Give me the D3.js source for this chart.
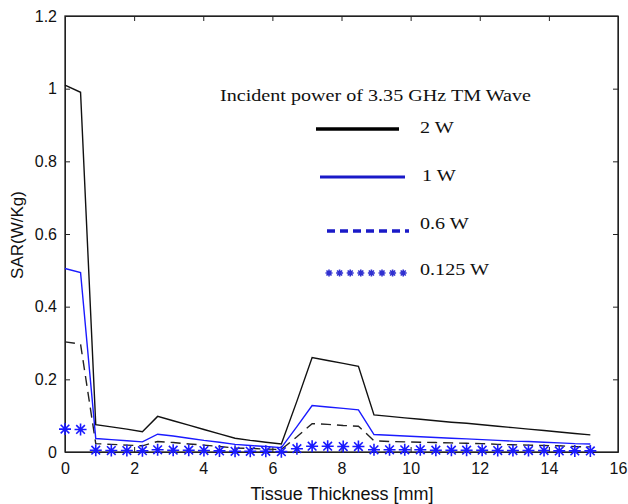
<!DOCTYPE html>
<html>
<head>
<meta charset="utf-8">
<script src="https://cdn.jsdelivr.net/npm/d3@7"></script>
<style>
  body { margin: 0; background: #fff; }
  svg { display: block; }
</style>
</head>
<body>
<svg id="chart"></svg>
<script>
const w = 628;
const h = 504;

// tissue thickness sample points [mm]
const thickness = [0, 0.45, 0.89, 1.34, 1.79, 2.24, 2.68, 3.13, 3.58, 4.02, 4.47, 4.92, 5.36, 5.81, 6.26,
                   6.71, 7.15, 7.6, 8.05, 8.49, 8.94, 9.39, 9.83, 10.28, 10.73, 11.18, 11.62, 12.07, 12.52,
                   12.96, 13.41, 13.86, 14.3, 14.75, 15.2];

// SAR values (W/Kg)
const sar2W = [1.01, 0.99, 0.075, 0.069, 0.063, 0.056, 0.098, 0.086, 0.074, 0.062, 0.050, 0.038, 0.032, 0.027, 0.022,
               0.14, 0.26, 0.252, 0.244, 0.236, 0.102, 0.098, 0.094, 0.090, 0.086, 0.082, 0.079, 0.075, 0.071,
               0.067, 0.063, 0.059, 0.055, 0.051, 0.047];
const sar1W = [0.505, 0.494, 0.037, 0.034, 0.031, 0.028, 0.049, 0.044, 0.038, 0.032, 0.027, 0.021, 0.018, 0.015, 0.012,
               0.07, 0.128, 0.124, 0.12, 0.116, 0.048, 0.046, 0.044, 0.042, 0.040, 0.038, 0.036, 0.034, 0.032,
               0.030, 0.029, 0.027, 0.025, 0.023, 0.022];
const sar06W = [0.303, 0.297, 0.023, 0.021, 0.019, 0.017, 0.029, 0.026, 0.022, 0.019, 0.015, 0.011, 0.010, 0.008, 0.007,
                0.042, 0.078, 0.076, 0.073, 0.071, 0.031, 0.029, 0.028, 0.027, 0.026, 0.025, 0.024, 0.023, 0.021,
                0.020, 0.019, 0.018, 0.017, 0.015, 0.014];
const sar0125W = [0.063, 0.062, 0.005, 0.004, 0.004, 0.0035, 0.006, 0.005, 0.005, 0.004, 0.003, 0.002, 0.002, 0.002, 0.001,
                  0.009, 0.016, 0.016, 0.015, 0.015, 0.006, 0.006, 0.006, 0.006, 0.005, 0.005, 0.005, 0.005, 0.004,
                  0.004, 0.004, 0.004, 0.003, 0.003, 0.003];

const xTicks = [0, 2, 4, 6, 8, 10, 12, 14, 16];
const yTicks = [0, 0.2, 0.4, 0.6, 0.8, 1, 1.2];

const legendTitle = "Incident power of 3.35 GHz TM Wave";
const legendLabels = ["2 W", "1 W", "0.6 W", "0.125 W"];

const padLeft = 65, padRight = 618, padTop = 16, padBottom = 452;

let svg = d3.select("#chart")
    .attr("width", w)
    .attr("height", h);

let xScale = d3.scaleLinear().domain([0, 16]).range([padLeft, padRight]);
let yScale = d3.scaleLinear().domain([0, 1.2]).range([padBottom, padTop]);

const fmt = v => String(+v.toFixed(1));

// axes (ticks pointing inside, matlab style)
let xAxis = d3.axisBottom(xScale).tickValues(xTicks).tickFormat(fmt).tickSizeInner(-5).tickSizeOuter(0).tickPadding(11);
let yAxis = d3.axisLeft(yScale).tickValues(yTicks).tickFormat(fmt).tickSizeInner(-5).tickSizeOuter(0).tickPadding(8);
let xTop = d3.axisTop(xScale).tickValues(xTicks).tickFormat("").tickSizeInner(-5).tickSizeOuter(0);
let yRight = d3.axisRight(yScale).tickValues(yTicks).tickFormat("").tickSizeInner(-5).tickSizeOuter(0);

svg.append("g").attr("transform", `translate(0,${padBottom})`).call(xAxis);
svg.append("g").attr("transform", `translate(${padLeft},0)`).call(yAxis);
svg.append("g").attr("transform", `translate(0,${padTop})`).call(xTop);
svg.append("g").attr("transform", `translate(${padRight},0)`).call(yRight);

svg.selectAll(".tick text")
   .style("font-family", "Arial, 'Liberation Sans', sans-serif")
   .style("font-size", "16px")
   .attr("fill", "#111");
svg.selectAll(".tick line").attr("stroke", "#222");
svg.selectAll(".domain").attr("stroke", "#222");

svg.append("rect")
   .attr("x", padLeft).attr("y", padTop)
   .attr("width", padRight - padLeft).attr("height", padBottom - padTop)
   .attr("fill", "none").attr("stroke", "#222").attr("stroke-width", 1.3);

// series
let line = d3.line()
    .x((d, i) => xScale(thickness[i]))
    .y(d => yScale(d));

svg.append("path").datum(sar06W)
   .attr("d", line).attr("fill", "none")
   .attr("stroke", "#222").attr("stroke-width", 1.4).attr("stroke-dasharray", "10,6");

svg.append("path").datum(sar1W)
   .attr("d", line).attr("fill", "none")
   .attr("stroke", "#1a1aff").attr("stroke-width", 1.4);

svg.append("path").datum(sar2W)
   .attr("d", line).attr("fill", "none")
   .attr("stroke", "#111").attr("stroke-width", 1.4);

// asterisk marker
const star = r => {
    let d2 = r * 0.72;
    return `M0,${-r}V${r}M${-r},0H${r}M${-d2},${-d2}L${d2},${d2}M${-d2},${d2}L${d2},${-d2}`;
};

svg.selectAll(".star")
   .data(sar0125W)
   .enter()
   .append("path")
   .attr("class", "star")
   .attr("transform", (d, i) => `translate(${xScale(thickness[i])},${yScale(d)})`)
   .attr("d", star(6))
   .attr("stroke", "#1a1aff")
   .attr("stroke-width", 1.6)
   .attr("fill", "none");

// axis titles
svg.append("text")
   .attr("x", 342).attr("y", 500)
   .attr("text-anchor", "middle")
   .style("font-family", "Arial, 'Liberation Sans', sans-serif")
   .style("font-size", "18px")
   .attr("fill", "#111")
   .text("Tissue Thickness [mm]");

svg.append("text")
   .attr("transform", "translate(23,235) rotate(-90)")
   .attr("text-anchor", "middle")
   .style("font-family", "Arial, 'Liberation Sans', sans-serif")
   .style("font-size", "17px")
   .attr("fill", "#111")
   .text("SAR(W/Kg)");

// legend (an inset drawn in a serif face, slightly stretched)
let legend = svg.append("g");

const serifText = (x, y, txt) => {
    legend.append("g")
          .attr("transform", `translate(${x},${y}) scale(1.22,1)`)
          .append("text")
          .style("font-family", "'Liberation Serif', 'Times New Roman', serif")
          .style("font-size", "16.5px")
          .attr("fill", "#111")
          .text(txt);
};

serifText(220, 101, legendTitle);

legend.append("line").attr("x1", 316).attr("x2", 399).attr("y1", 129).attr("y2", 129)
      .attr("stroke", "#000").attr("stroke-width", 3.5);
legend.append("line").attr("x1", 320).attr("x2", 405).attr("y1", 177).attr("y2", 177)
      .attr("stroke", "#1a1ac8").attr("stroke-width", 3);
legend.append("line").attr("x1", 327).attr("x2", 409).attr("y1", 231).attr("y2", 231)
      .attr("stroke", "#1a1ac8").attr("stroke-width", 3.5).attr("stroke-dasharray", "8,5");

legend.selectAll(".lstar")
      .data(d3.range(8))
      .enter()
      .append("path")
      .attr("class", "lstar")
      .attr("transform", i => `translate(${329 + i * 10.6},273)`)
      .attr("d", star(3.5))
      .attr("stroke", "#3030d0")
      .attr("stroke-width", 1.6)
      .attr("fill", "none");

serifText(420, 133, legendLabels[0]);
serifText(422, 181, legendLabels[1]);
serifText(420, 229, legendLabels[2]);
serifText(420, 275, legendLabels[3]);
</script>
</body>
</html>
